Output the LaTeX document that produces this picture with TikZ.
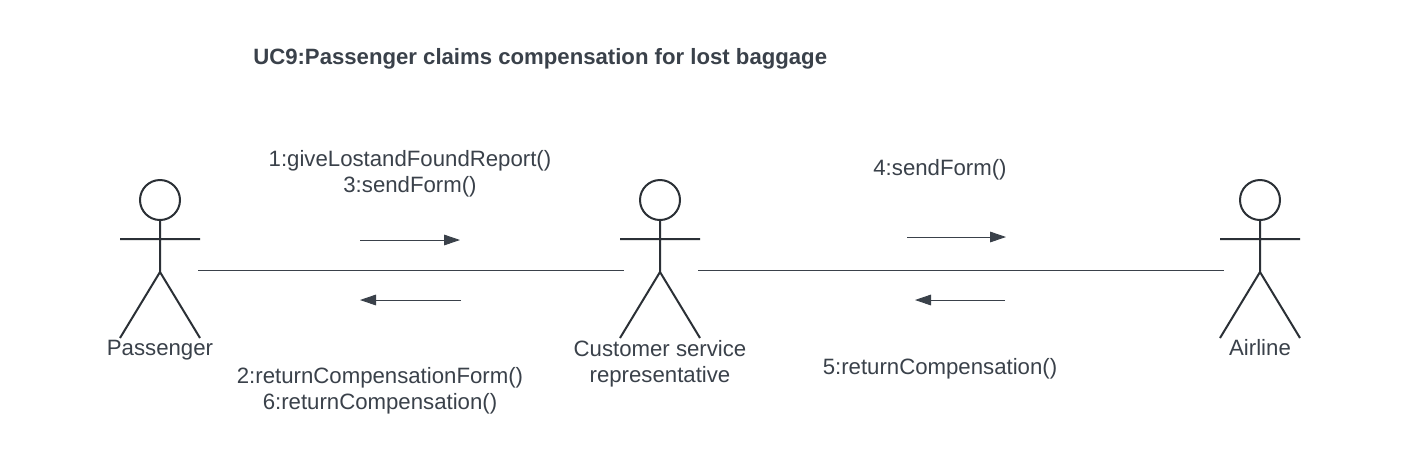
\documentclass[tikz,border=0pt]{standalone}
\usepackage{fontspec}
\setmainfont{Liberation Sans}
\usetikzlibrary{arrows.meta}
\definecolor{ink}{HTML}{3A414A}
\definecolor{stickink}{HTML}{2B3036}
\tikzset{
 x=0.75pt,y=-0.75pt,
 lbl/.style={text=ink,font=\fontsize{16.65}{19.8}\selectfont,align=center,inner sep=0pt},
 ttl/.style={text=ink,font=\fontsize{16.62}{20}\selectfont\bfseries,inner sep=0pt},
 stick/.style={draw=stickink,line width=1.5pt},
 lnk/.style={draw=ink,line width=0.7pt},
 msg/.style={draw=ink,line width=0.7pt,-{Triangle[length=12pt,width=8pt]}},
}
\newcommand{\actor}[2]{%
 \node[stick,circle,minimum size=30pt,inner sep=0pt] (#2h) at (#1,200) {};
 \coordinate (#2n) at (#1,220);
 \coordinate (#2w) at (#1,272);
 \coordinate (#2l) at ({#1-40},239);
 \coordinate (#2r) at ({#1+40},239);
 \coordinate (#2fl) at ({#1-40},338);
 \coordinate (#2fr) at ({#1+40},338);
 \draw[stick] (#2h.south) -- (#2w) (#2l) -- (#2r) (#2fl) -- (#2w) -- (#2fr);
}
\begin{document}
\begin{tikzpicture}
\useasboundingbox (0,0) rectangle (1420,462);
\fill[white] (0,0) rectangle (1420,462);
\actor{160}{p}
\actor{660}{c}
\actor{1260}{a}
\node[ttl,anchor=west] (title) at (253,59) {UC9:Passenger claims compensation for lost baggage};
\node[lbl,anchor=base] (lp) at (160,355) {Passenger};
\node[lbl] (lc) at (660,364) {Customer service\\representative};
\node[lbl,anchor=base] (la) at (1260,355) {Airline};
\node[lbl] (m1) at (410,174) {1:giveLostandFoundReport()\\3:sendForm()};
\node[lbl] (m2) at (380,391) {2:returnCompensationForm()\\6:returnCompensation()};
\node[lbl] (m4) at (940,170) {4:sendForm()};
\node[lbl] (m5) at (940,369) {5:returnCompensation()};
\coordinate (a1) at (198,270); \coordinate (a2) at (624,270);
\coordinate (b1) at (698,270); \coordinate (b2) at (1224,270);
\draw[lnk] (a1) -- (a2);
\draw[lnk] (b1) -- (b2);
\coordinate (s1) at (360,240); \coordinate (e1) at (460,240);
\coordinate (s2) at (461,300); \coordinate (e2) at (360,300);
\coordinate (s3) at (907,237); \coordinate (e3) at (1006,237);
\coordinate (s4) at (1005,300); \coordinate (e4) at (915,300);
\draw[msg] (s1) -- (e1);
\draw[msg] (s2) -- (e2);
\draw[msg] (s3) -- (e3);
\draw[msg] (s4) -- (e4);
\end{tikzpicture}
\end{document}
